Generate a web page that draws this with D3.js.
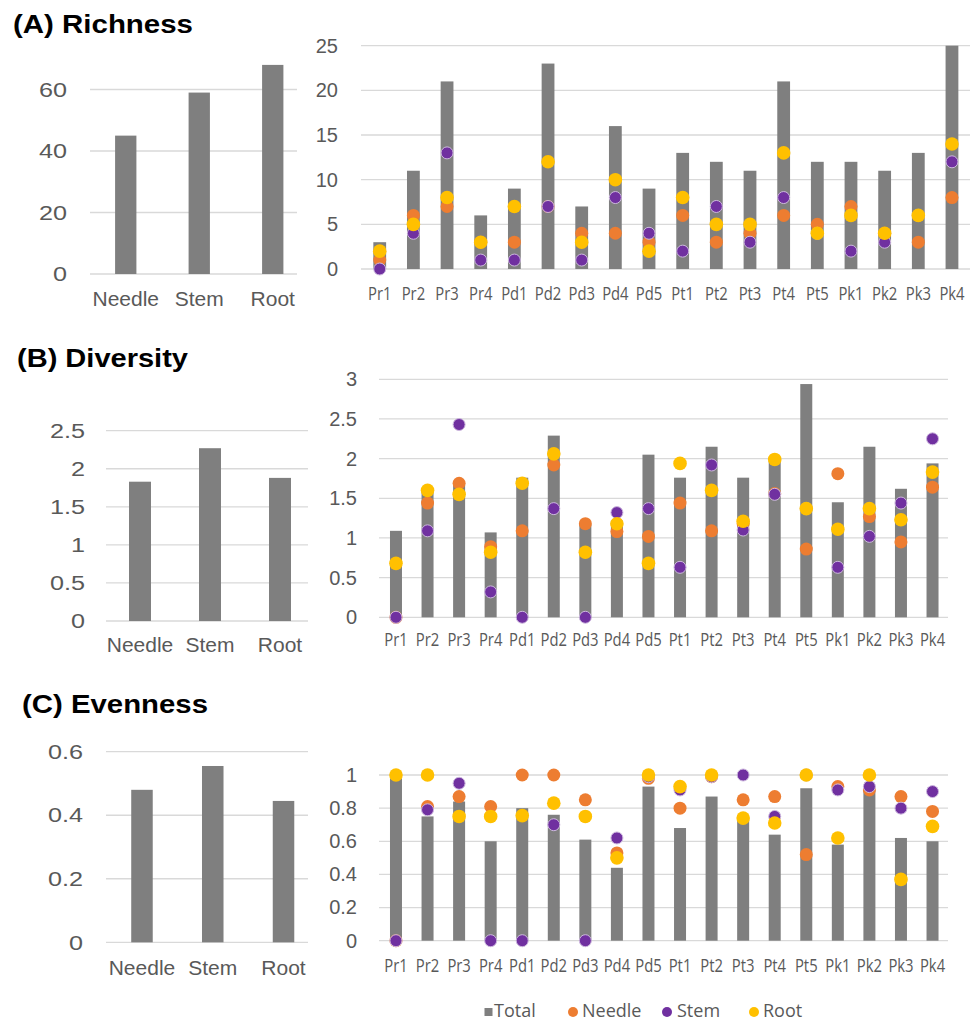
<!DOCTYPE html>
<html>
<head>
<meta charset="utf-8">
<script src="https://cdn.jsdelivr.net/npm/d3@7"></script>
<style>
  body { margin: 0; background: #fff; }
</style>
</head>
<body>
<div id="chart"></div>
<script>
// ---- data ----
const tissues = ["Needle", "Stem", "Root"];
const sites = ["Pr1", "Pr2", "Pr3", "Pr4", "Pd1", "Pd2", "Pd3", "Pd4", "Pd5",
  "Pt1", "Pt2", "Pt3", "Pt4", "Pt5", "Pk1", "Pk2", "Pk3", "Pk4"];

// (A) Richness
const richTissue = [45, 59, 68];
const richTotal  = [3, 11, 21, 6, 9, 23, 7, 16, 9, 13, 12, 11, 21, 12, 12, 11, 13, 25];
const richNeedle = [1, 6, 7, 3, 3, 7, 4, 4, 3, 6, 3, 4, 6, 5, 7, 4, 3, 8];
const richStem   = [0, 4, 13, 1, 1, 7, 1, 8, 4, 2, 7, 3, 8, 4, 2, 3, 6, 12];
const richRoot   = [2, 5, 8, 3, 7, 12, 3, 10, 2, 8, 5, 5, 13, 4, 6, 4, 6, 14];

// (B) Diversity
const divTissue = [1.83, 2.27, 1.88];
const divTotal  = [1.09, 1.6, 1.68, 1.07, 1.76, 2.29, 1.17, 1.22, 2.05, 1.76, 2.15, 1.76, 1.97, 2.94, 1.45, 2.15, 1.62, 1.94];
const divNeedle = [0, 1.44, 1.69, 0.89, 1.09, 1.92, 1.18, 1.08, 1.02, 1.44, 1.09, 1.18, 1.56, 0.86, 1.81, 1.27, 0.95, 1.64];
const divStem   = [0, 1.09, 2.43, 0.32, 0, 1.37, 0, 1.32, 1.37, 0.63, 1.92, 1.10, 1.55, 1.37, 0.63, 1.02, 1.44, 2.25];
const divRoot   = [0.68, 1.60, 1.55, 0.82, 1.69, 2.06, 0.82, 1.18, 0.68, 1.94, 1.60, 1.21, 1.99, 1.37, 1.11, 1.37, 1.23, 1.83];

// (C) Evenness
const evenTissue = [0.48, 0.555, 0.445];
const evenTotal  = [0.98, 0.75, 0.84, 0.60, 0.80, 0.76, 0.61, 0.44, 0.93, 0.68, 0.87, 0.74, 0.64, 0.92, 0.58, 0.91, 0.62, 0.60];
const evenNeedle = [0, 0.81, 0.87, 0.81, 1.0, 1.0, 0.85, 0.53, 0.98, 0.80, 0.99, 0.85, 0.87, 0.52, 0.93, 0.91, 0.87, 0.78];
const evenStem   = [0, 0.79, 0.95, 0, 0, 0.70, 0, 0.62, 0.99, 0.91, 0.99, 1.0, 0.75, 1.0, 0.91, 0.93, 0.80, 0.90];
const evenRoot   = [1.0, 1.0, 0.75, 0.75, 0.755, 0.83, 0.75, 0.50, 1.0, 0.93, 1.0, 0.74, 0.71, 1.0, 0.62, 1.0, 0.37, 0.69];

const legendLabels = ["Total", "Needle", "Stem", "Root"];

// ---- style ----
const colors = { total: "#7f7f7f", needle: "#ED7D31", stem: "#7030A0", root: "#FFC000" };
const gridColor = "#d9d9d9";
const textColor = "#595959";
const fmt = d3.format("~g");

const svg = d3.select("#chart")
  .append("svg")
  .attr("width", 973)
  .attr("height", 1023)
  .style("font-family", "'Liberation Sans', Arial, sans-serif");

// small tissue bar chart on the left
function leftChart(cfg) {
  const g = svg.append("g");
  const y = d3.scaleLinear().domain([0, cfg.dmax]).range([cfg.y0, cfg.y1]);
  const x = d3.scaleBand().domain(tissues).range(cfg.xRange).padding(0);
  const barW = x.bandwidth() * cfg.barFrac;

  // gridlines
  g.selectAll(".grid")
    .data(cfg.ticks)
    .enter()
    .append("line")
    .attr("x1", cfg.gridX[0])
    .attr("x2", cfg.gridX[1])
    .attr("y1", (d) => y(d))
    .attr("y2", (d) => y(d))
    .attr("stroke", gridColor)
    .attr("stroke-width", 1.3);

  g.selectAll(".bar")
    .data(cfg.values)
    .enter()
    .append("rect")
    .attr("x", (d, i) => x(tissues[i]) + (x.bandwidth() - barW) / 2)
    .attr("y", (d) => y(d))
    .attr("width", barW)
    .attr("height", (d) => y(0) - y(d))
    .attr("fill", colors.total);

  const yAxis = g.append("g")
    .attr("transform", `translate(${cfg.labelRight},0)`)
    .call(d3.axisLeft(y).tickValues(cfg.ticks).tickSize(0).tickPadding(0).tickFormat(fmt));
  yAxis.select(".domain").remove();
  yAxis.selectAll("text")
    .attr("fill", textColor)
    .style("font-size", "21px")
    .attr("transform", "scale(1.2,1)");

  const xAxis = g.append("g")
    .attr("transform", `translate(0,${cfg.y0})`)
    .call(d3.axisBottom(x).tickSize(0));
  xAxis.select(".domain").remove();
  xAxis.selectAll("text")
    .attr("y", cfg.labelBase)
    .attr("dy", 0)
    .attr("fill", textColor)
    .style("font-size", "21px");
}

// per-site chart on the right: total bars + tissue dots
function rightChart(cfg) {
  const g = svg.append("g");
  const y = d3.scaleLinear().domain([0, cfg.dmax]).range([cfg.y0, cfg.y1]);
  const x = d3.scaleBand().domain(sites).range(cfg.xRange).padding(0);
  const cx = (i) => x(sites[i]) + x.bandwidth() / 2;
  const barW = x.bandwidth() * 0.38;

  g.selectAll(".grid")
    .data(cfg.ticks)
    .enter()
    .append("line")
    .attr("x1", cfg.gridX[0])
    .attr("x2", cfg.gridX[1])
    .attr("y1", (d) => y(d))
    .attr("y2", (d) => y(d))
    .attr("stroke", gridColor)
    .attr("stroke-width", 1.3);

  g.selectAll(".bar")
    .data(cfg.total)
    .enter()
    .append("rect")
    .attr("x", (d, i) => cx(i) - barW / 2)
    .attr("y", (d) => y(d))
    .attr("width", barW)
    .attr("height", (d) => y(0) - y(d))
    .attr("fill", colors.total);

  const series = [
    { vals: cfg.needle, color: colors.needle, r: 6.5, stroke: "none" },
    { vals: cfg.stem, color: colors.stem, r: 6, stroke: "#cdb8de" },
    { vals: cfg.root, color: colors.root, r: 6.8, stroke: "none" },
  ];
  series.forEach((s) => {
    g.append("g")
      .selectAll("circle")
      .data(s.vals)
      .enter()
      .append("circle")
      .attr("cx", (d, i) => cx(i))
      .attr("cy", (d) => y(d))
      .attr("r", s.r)
      .attr("fill", s.color)
      .attr("stroke", s.stroke)
      .attr("stroke-width", 1);
  });

  const yAxis = g.append("g")
    .attr("transform", `translate(${cfg.labelRight},0)`)
    .call(d3.axisLeft(y).tickValues(cfg.ticks).tickSize(0).tickPadding(0).tickFormat(fmt));
  yAxis.select(".domain").remove();
  yAxis.selectAll("text")
    .attr("fill", textColor)
    .style("font-size", "20px");

  const xAxis = g.append("g")
    .attr("transform", `translate(0,${cfg.y0})`)
    .call(d3.axisBottom(x).tickSize(0));
  xAxis.select(".domain").remove();
  xAxis.selectAll("text")
    .attr("y", cfg.labelBase)
    .attr("dy", 0)
    .attr("fill", textColor)
    .style("font-family", "'Open Sans', sans-serif")
    .style("font-size", "19px")
    .attr("transform", "scale(0.78,1)");
}

function title(txt, x, yb, w) {
  svg.append("text")
    .attr("x", x)
    .attr("y", yb)
    .attr("textLength", w)
    .attr("lengthAdjust", "spacingAndGlyphs")
    .style("font-size", "25px")
    .style("font-weight", "bold")
    .attr("fill", "#000")
    .text(txt);
}

// ---- (A) Richness ----
title("(A) Richness", 13, 33, 180);
leftChart({
  values: richTissue, dmax: 60, ticks: [0, 20, 40, 60],
  y0: 274, y1: 89.5, xRange: [89, 309.5], gridX: [90, 297],
  barFrac: 0.29, labelRight: 67, labelBase: 32,
});
rightChart({
  total: richTotal, needle: richNeedle, stem: richStem, root: richRoot,
  dmax: 25, ticks: [0, 5, 10, 15, 20, 25],
  y0: 269, y1: 45.7, xRange: [362.9, 968.8], gridX: [361, 970],
  labelRight: 338, labelBase: 31,
});

// ---- (B) Diversity ----
title("(B) Diversity", 17, 367, 171);
leftChart({
  values: divTissue, dmax: 2.5, ticks: [0, 0.5, 1, 1.5, 2, 2.5],
  y0: 621, y1: 430.7, xRange: [105, 315], gridX: [106, 308],
  barFrac: 0.314, labelRight: 85, labelBase: 31,
});
rightChart({
  total: divTotal, needle: divNeedle, stem: divStem, root: divRoot,
  dmax: 3, ticks: [0, 0.5, 1, 1.5, 2, 2.5, 3],
  y0: 617.3, y1: 379.3, xRange: [380.2, 948.3], gridX: [379, 948],
  labelRight: 357, labelBase: 29,
});

// ---- (C) Evenness ----
title("(C) Evenness", 22, 713, 186);
leftChart({
  values: evenTissue, dmax: 0.6, ticks: [0, 0.2, 0.4, 0.6],
  y0: 942.3, y1: 751.7, xRange: [106.6, 318.9], gridX: [106, 308],
  barFrac: 0.304, labelRight: 83, labelBase: 33,
});
rightChart({
  total: evenTotal, needle: evenNeedle, stem: evenStem, root: evenRoot,
  dmax: 1, ticks: [0, 0.2, 0.4, 0.6, 0.8, 1],
  y0: 940.7, y1: 775, xRange: [380.2, 948.3], gridX: [379, 948],
  labelRight: 357, labelBase: 31,
});

// ---- legend ----
const legend = svg.append("g").style("font-family", "'Open Sans', sans-serif");
const legendItems = [
  { label: legendLabels[0], color: colors.total, shape: "rect", mx: 488.5, tx: 494 },
  { label: legendLabels[1], color: colors.needle, shape: "circle", mx: 573, tx: 582 },
  { label: legendLabels[2], color: colors.stem, shape: "circle", mx: 667, tx: 677 },
  { label: legendLabels[3], color: colors.root, shape: "circle", mx: 754, tx: 763 },
];
legendItems.forEach((d) => {
  if (d.shape === "rect") {
    legend.append("rect")
      .attr("x", d.mx - 4).attr("y", 1008).attr("width", 8).attr("height", 8)
      .attr("fill", d.color);
  } else {
    legend.append("circle")
      .attr("cx", d.mx).attr("cy", 1012).attr("r", 5)
      .attr("fill", d.color);
  }
  legend.append("text")
    .attr("x", d.tx)
    .attr("y", 1017)
    .attr("fill", textColor)
    .style("font-size", "18px")
    .text(d.label);
});
</script>
</body>
</html>
